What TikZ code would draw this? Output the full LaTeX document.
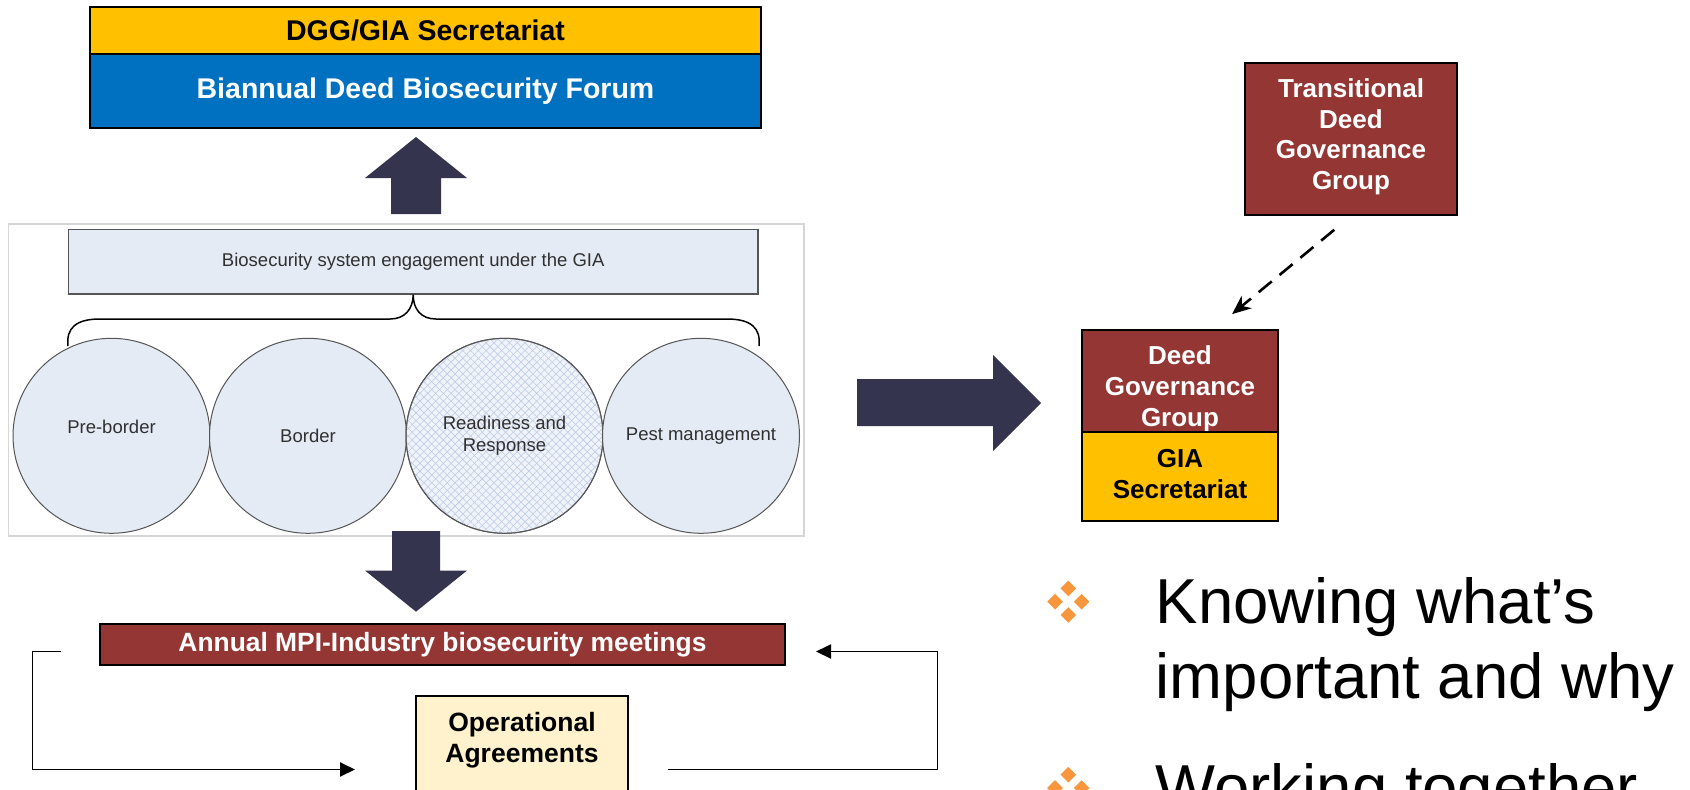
\documentclass[tikz,border=0pt]{standalone}
\usepackage{fontspec}
\setmainfont{Liberation Sans}
\usetikzlibrary{shapes.geometric,arrows.meta,patterns.meta,calc}
\definecolor{gold}{HTML}{FFC000}
\definecolor{dblue}{HTML}{0070C0}
\definecolor{dred}{HTML}{943634}
\definecolor{navy}{HTML}{34344E}
\definecolor{paleblue}{HTML}{E5EBF5}
\definecolor{hatchbg}{HTML}{F0F3FA}
\definecolor{hatchln}{HTML}{BCCAE4}
\definecolor{paleyel}{HTML}{FFF2CC}
\definecolor{orng}{HTML}{F7963C}
\definecolor{framegray}{HTML}{D6D6D6}
\definecolor{edgegray}{HTML}{555555}
\definecolor{txtgray}{HTML}{303030}
\newcommand\fsz[2]{\fontsize{#1}{#2}\selectfont}
\begin{document}
\begin{tikzpicture}[x=1pt,y=-1pt,
  box/.style={draw=black,line width=2pt,inner sep=0pt,align=center},
  panelbox/.style={draw=edgegray,line width=1.1pt,fill=paleblue,inner sep=0pt},
  ell/.style={ellipse,draw=edgegray,line width=1pt,fill=paleblue,minimum width=197pt,minimum height=195pt,inner sep=0pt,align=center,text=txtgray,font=\fsz{18.5}{21.7}},
  hatch/.style={fill=hatchbg,
    postaction={pattern={Lines[angle=45,distance=5.5pt,line width=0.55pt]},pattern color=hatchln},
    postaction={pattern={Lines[angle=-45,distance=5.5pt,line width=0.55pt]},pattern color=hatchln},
    postaction={draw=edgegray,line width=1pt}},
  loopline/.style={line width=1.9pt,-{Triangle[length=15pt,width=14pt]}},
  dashedlink/.style={line width=2.6pt,dash pattern=on 17pt off 10pt,-{Stealth[length=19pt,width=16pt]}},
  fourdiamond/.pic={\foreach \dx/\dy in {0/-13.3,-13.3/0,13.3/0,0/13.3}
      \fill[orng] (\dx,\dy) +(0,-7.8) -- +(7.8,0) -- +(0,7.8) -- +(-7.8,0) -- cycle;}
]
\useasboundingbox (0,0) rectangle (1690,790);
\clip (0,0) rectangle (1690,790);

% top boxes
\node[box,fill=gold,minimum width=671pt,minimum height=47.3pt,font=\bfseries\fsz{28.5}{33}] (sec) at (425.5,30.35) {DGG/GIA Secretariat};
\node[box,fill=dblue,text=white,minimum width=671pt,minimum height=73.7pt,font=\bfseries\fsz{28.5}{33}] (forum) at (425.5,91.15) {Biannual Deed Biosecurity Forum};

% up block arrow
\fill[navy] (416,137) -- (467,178) -- (441,178) -- (441,214) -- (391,214) -- (391,178) -- (365,178) -- cycle;

% middle panel
\node[draw=framegray,line width=1.5pt,minimum width=795.5pt,minimum height=312pt,inner sep=0pt] (panel) at (406.25,380) {};
\node[panelbox,minimum width=689.5pt,minimum height=64.5pt,text=txtgray,font=\fsz{18.5}{22}] (gia) at (413.25,261.75) {Biosecurity system engagement under the GIA};

\draw[line width=1.5pt] (68,346) .. controls (66,328) and (76,319) .. (100,319) -- (390,319)
  .. controls (405,319) and (413,309) .. (gia.south)
  .. controls (413,309) and (421,319) .. (436,319) -- (727,319)
  .. controls (751,319) and (761,328) .. (759,346);

\node[ell,text depth=18pt] (pre) at (111.5,435.8) {\makebox[0pt]{Pre-border}};
\node[ell] (bor) at (308,435.8) {\makebox[0pt]{Border}};
\node[ell,hatch] (rr) at (504.5,435.8) {Readiness and\\Response};
\node[ell] (pest) at (701,435.8) {\makebox[0pt]{Pest management}};

% down block arrow
\fill[navy] (392,531) -- (440,531) -- (440,570.5) -- (467,570.5) -- (416,611.7) -- (365,570.5) -- (392,570.5) -- cycle;

% annual meetings and loop
\node[box,fill=dred,text=white,minimum width=685pt,minimum height=41pt,font=\bfseries\fsz{26.4}{30}] (annual) at (442.5,644.5) {Annual MPI-Industry biosecurity meetings};
\node[box,fill=paleyel,minimum width=212pt,minimum height=140pt,font=\bfseries\fsz{26.5}{31.7}] (oper) at (522,766) {Operational\\Agreements\rule[-57.3pt]{0pt}{57.3pt}};

\coordinate (lstart) at (61,651.5);
\coordinate (lend) at (355,769.5);
\coordinate (rstart) at (668,769.5);
\coordinate (rend) at (816,651.5);
\draw[loopline] (lstart) -- (32.5,651.5) -- (32.5,769.5) -- (lend);
\draw[loopline] (rstart) -- (937.5,769.5) -- (937.5,651.5) -- (rend);

% right block arrow
\fill[navy] (857,379) -- (993,379) -- (993,355) -- (1041,403) -- (993,451) -- (993,426) -- (857,426) -- cycle;

% governance boxes
\node[box,fill=dred,text=white,minimum width=212pt,minimum height=152.3pt,font=\bfseries\fsz{26}{30.7}] (tran) at (1351,138.85) {Transitional\\Deed\\Governance\\Group\rule[-9.6pt]{0pt}{9.6pt}};
\node[box,fill=dred,text=white,minimum width=196pt,minimum height=102.3pt,font=\bfseries\fsz{26}{31.4}] (dgg) at (1180,381.15) {\rule{0pt}{34pt}Deed\\Governance\\Group};
\node[box,fill=gold,minimum width=196pt,minimum height=88.7pt,font=\bfseries\fsz{26}{31}] (giasec) at (1180,476.65) {GIA\\Secretariat\rule[-6.3pt]{0pt}{6.3pt}};

\draw[dashedlink,shorten <=21.7pt,shorten >=23.4pt] (tran.south) -- ($(dgg.north)+(34,0)$);

% bullets
\pic at (1068.3,601.7) {fourdiamond};
\pic at (1068.3,788) {fourdiamond};
\node[anchor=west,inner sep=0pt,align=left,font=\fsz{63.5}{75}] (know) at (1155.5,644.9) {Knowing what’s\\important and why};
\node[anchor=base west,inner sep=0pt,font=\fsz{63.5}{75}] (work) at (1155.5,809.6) {Working together};
\end{tikzpicture}
\end{document}
